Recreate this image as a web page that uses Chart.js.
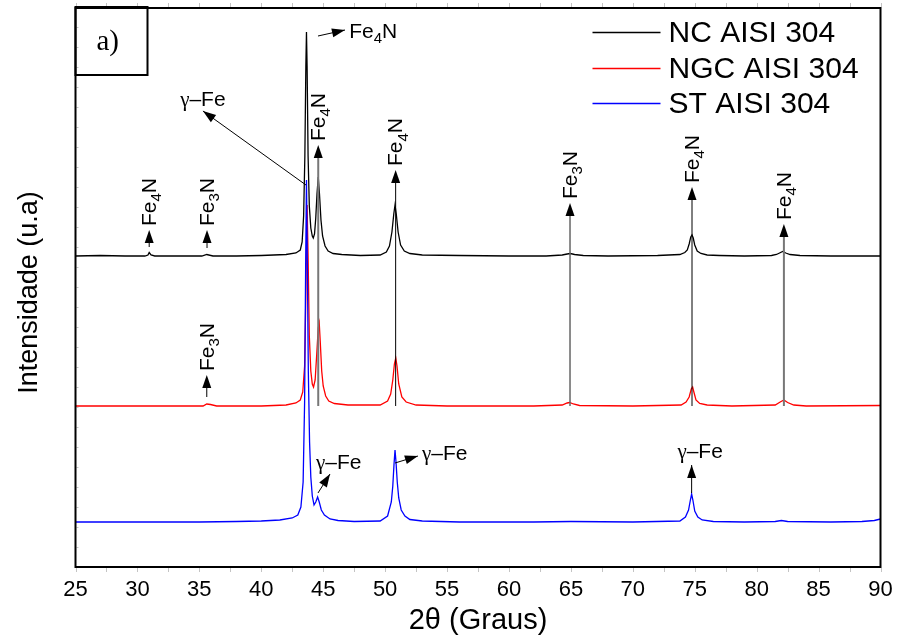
<!DOCTYPE html>
<html>
<head>
<meta charset="utf-8">
<script src="https://cdn.jsdelivr.net/npm/chart.js@4.4.1/dist/chart.umd.min.js"></script>
<style>
  body { margin: 0; background: #fff; }
  canvas { display: block; }
</style>
</head>
<body>
<canvas id="xrd_chart" width="899" height="641"></canvas>
<script>
// 2theta range and ticks
var angleMin = 25;
var angleMax = 90;
var angleStep = 5;

var seriesNames = ['NC AISI 304', 'NGC AISI 304', 'ST AISI 304'];
var seriesColors = ['#000000', '#ff0000', '#0000ff'];
// vertical offset of each pattern (stacked plot)
var baselineOffsets = [311, 161, 45];

// [2theta, intensity above its own baseline]
var nc_pattern = [
  [25, 0], [27, 0.5], [29, 0], [30.6, 0], [30.85, 1], [30.95, 3.5], [31.1, 1], [31.4, 0],
  [33, 0], [35.2, 0], [35.6, 1.5], [36.1, 0], [38, 0], [40, 0.5], [42, 1.5], [42.8, 3],
  [43.15, 6], [43.3, 14], [43.42, 40], [43.52, 100], [43.6, 190], [43.65, 224], [43.7, 190],
  [43.78, 100], [43.88, 50], [44.0, 28], [44.12, 20], [44.2, 18], [44.3, 22], [44.4, 38],
  [44.5, 62], [44.6, 79], [44.7, 62], [44.82, 36], [44.95, 20], [45.15, 10], [45.4, 5],
  [45.8, 2.5], [46.5, 1.5], [48, 0.5], [49.6, 1], [50.1, 4], [50.35, 10], [50.55, 24],
  [50.7, 42], [50.8, 51], [50.9, 42], [51.05, 24], [51.25, 11], [51.55, 5], [52, 2.5],
  [53, 1], [56, 0.5], [60, 0], [63, 0], [64.3, 1], [64.7, 2], [64.95, 2.5], [65.3, 1.5],
  [66, 0.5], [68, 0], [72, 0.5], [73.8, 1.5], [74.2, 3.5], [74.4, 6], [74.55, 12],
  [74.68, 19], [74.78, 21], [74.88, 18], [75.0, 11], [75.2, 5], [75.5, 2.5], [76, 1],
  [77, 0.5], [79, 0], [81.2, 0.5], [81.6, 1.5], [81.85, 3], [82.1, 4.5], [82.35, 3],
  [82.7, 1.5], [83.5, 0.5], [86, 0], [90, 0]
];
var ngc_pattern = [
  [25, 0], [30, 0], [35.3, 0], [35.6, 2], [35.9, 1.5], [36.4, 0], [40, 0], [42, 1],
  [42.8, 3], [43.15, 6], [43.35, 14], [43.5, 40], [43.6, 110], [43.7, 201], [43.78, 150],
  [43.88, 70], [44.0, 35], [44.12, 22], [44.22, 19], [44.35, 26], [44.48, 52], [44.6, 78],
  [44.68, 83], [44.76, 65], [44.88, 35], [45.0, 20], [45.2, 10], [45.45, 5], [45.9, 2.5],
  [47, 1], [49.6, 1], [50.2, 5], [50.45, 12], [50.62, 26], [50.75, 42], [50.86, 48],
  [50.96, 40], [51.1, 22], [51.35, 9], [51.7, 4], [52.5, 1], [55, 0], [62, 0], [64.3, 1],
  [64.7, 3], [64.9, 3.5], [65.2, 2], [65.7, 0.5], [70, 0], [73.9, 1], [74.3, 4],
  [74.55, 9], [74.72, 17], [74.83, 19], [74.93, 14], [75.1, 6], [75.4, 2.5], [76, 1],
  [78, 0], [81.5, 1], [81.9, 4], [82.2, 6], [82.5, 3.5], [83, 1], [84, 0], [90, 0.5]
];
var st_pattern = [
  [25, 0], [30, 0], [35, 0], [38, 0.5], [40, 1], [41.5, 2], [42.5, 4], [42.95, 7],
  [43.2, 15], [43.38, 40], [43.5, 120], [43.58, 250], [43.65, 342], [43.72, 260],
  [43.8, 150], [43.9, 80], [44.0, 45], [44.12, 26], [44.26, 17], [44.4, 20], [44.55, 25],
  [44.68, 20], [44.85, 12], [45.1, 7], [45.55, 3], [46.2, 1.5], [47.5, 0.5], [49.6, 1],
  [50.2, 6], [50.5, 20], [50.62, 36], [50.72, 58], [50.8, 72], [50.88, 60], [50.98, 40],
  [51.1, 24], [51.3, 12], [51.6, 6], [52, 2.5], [53, 1], [56, 0], [62, 0], [65, 0.5],
  [70, 0], [73.8, 1], [74.25, 5], [74.5, 12], [74.65, 22], [74.75, 28], [74.85, 22],
  [75.0, 11], [75.25, 5], [75.6, 2], [76.5, 0.5], [79, 0], [81.5, 0.5], [82, 1.5],
  [82.5, 0.5], [86, 0], [88.5, 0.5], [89.5, 1.5], [90, 3]
];

// phase labels (rotated) with upward arrows: angle, arrow tip, arrow tail
var phaseMarks = [
  {angle: 30.95, tip: 337, tail: 320, sub: '4', color: '#000', width: 1},
  {angle: 35.62, tip: 337, tail: 319, sub: '3', color: '#000', width: 1},
  {angle: 44.6, tip: 422, tail: 161, sub: '4', color: '#777', width: 2},
  {angle: 50.85, tip: 397, tail: 161, sub: '4', color: '#000', width: 1},
  {angle: 64.93, tip: 364, tail: 161, sub: '3', color: '#666', width: 1.5},
  {angle: 74.78, tip: 380, tail: 161, sub: '4', color: '#000', width: 1},
  {angle: 82.2, tip: 343, tail: 161, sub: '4', color: '#777', width: 2},
  {angle: 35.6, tip: 192, tail: 170, sub: '3', color: '#000', width: 1}
];
// slanted arrows with horizontal labels
var pointerMarks = [
  {from: [43.61, 382], to: [35.29, 456], text: 'gFe', at: [33.45, 467]},
  {from: [44.58, 531], to: [46.76, 537], text: 'Fe4N', at: [47.1, 535]},
  {from: [44.58, 74], to: [45.55, 93], text: 'gFe', at: [44.42, 104]},
  {from: [50.8, 104], to: [52.65, 111], text: 'gFe', at: [52.98, 113]},
  {from: [74.75, 74], to: [74.75, 102], text: 'gFe', at: [73.6, 115]}
];

var sansFont = 'Arial, "Liberation Sans", sans-serif';
var serifFont = '"Liberation Serif", "Times New Roman", serif';

function toPoints(pattern, offset) {
  var pts = [];
  for (var i = 0; i < pattern.length; i++)
    pts.push({x: pattern[i][0], y: pattern[i][1] + offset});
  return pts;
}

function arrowHead(ctx, x0, y0, x1, y1) {
  var a = Math.atan2(y1 - y0, x1 - x0), len = 13, w = 4.5;
  ctx.beginPath();
  ctx.moveTo(x1, y1);
  ctx.lineTo(x1 - len * Math.cos(a) + w * Math.sin(a), y1 - len * Math.sin(a) - w * Math.cos(a));
  ctx.lineTo(x1 - len * Math.cos(a) - w * Math.sin(a), y1 - len * Math.sin(a) + w * Math.cos(a));
  ctx.closePath();
  ctx.fill();
}

function drawFormula(ctx, x, y, sub, size) {
  ctx.textAlign = 'left';
  ctx.textBaseline = 'middle';
  ctx.font = size + 'px ' + sansFont;
  ctx.fillText('Fe', x, y);
  x += ctx.measureText('Fe').width;
  ctx.font = Math.round(size * 0.7) + 'px ' + sansFont;
  ctx.fillText(sub, x, y + 7);
  x += ctx.measureText(sub).width;
  ctx.font = size + 'px ' + sansFont;
  ctx.fillText('N', x, y);
}

function drawGammaFe(ctx, x, y) {
  ctx.textAlign = 'left';
  ctx.textBaseline = 'middle';
  ctx.font = '21px ' + serifFont;
  ctx.fillText('\u03b3', x, y);
  x += ctx.measureText('\u03b3').width;
  ctx.font = '21px ' + sansFont;
  ctx.fillText('\u2013Fe', x, y);
}

var xrdDecor = {
  id: 'xrdDecor',
  afterDatasetsDraw: function(chart) {
    var ctx = chart.ctx, xs = chart.scales.x, ys = chart.scales.y, ca = chart.chartArea;
    ctx.save();
    ctx.fillStyle = '#000';

    // upward arrows with rotated phase names
    phaseMarks.forEach(function(m) {
      var px = xs.getPixelForValue(m.angle);
      var yTip = ys.getPixelForValue(m.tip), yTail = ys.getPixelForValue(m.tail);
      ctx.strokeStyle = m.color;
      ctx.lineWidth = m.width;
      ctx.beginPath();
      ctx.moveTo(px, yTail);
      ctx.lineTo(px, yTip + 8);
      ctx.stroke();
      arrowHead(ctx, px, yTail, px, yTip);
      ctx.save();
      ctx.translate(px + 1, yTip - 4);
      ctx.rotate(-Math.PI / 2);
      drawFormula(ctx, 0, 0, m.sub, 21);
      ctx.restore();
    });

    // slanted arrows
    pointerMarks.forEach(function(m) {
      var x0 = xs.getPixelForValue(m.from[0]), y0 = ys.getPixelForValue(m.from[1]);
      var x1 = xs.getPixelForValue(m.to[0]), y1 = ys.getPixelForValue(m.to[1]);
      ctx.strokeStyle = '#000';
      ctx.lineWidth = 1;
      ctx.beginPath();
      ctx.moveTo(x0, y0);
      ctx.lineTo(x1, y1);
      ctx.stroke();
      arrowHead(ctx, x0, y0, x1, y1);
      var tx = xs.getPixelForValue(m.at[0]), ty = ys.getPixelForValue(m.at[1]);
      if (m.text == 'gFe') drawGammaFe(ctx, tx, ty);
      else drawFormula(ctx, tx, ty, '4', 21);
    });

    // faint tick marks
    ctx.strokeStyle = '#c4c4c4';
    ctx.lineWidth = 1;
    for (var a = angleMin; a <= angleMax; a += angleStep / 2) {
      var tx = Math.round(xs.getPixelForValue(a)) + 0.5;
      ctx.beginPath();
      ctx.moveTo(tx, ca.top - 1); ctx.lineTo(tx, ca.top - 5);
      ctx.moveTo(tx, ca.bottom + 1); ctx.lineTo(tx, ca.bottom + 5);
      ctx.stroke();
    }
    for (var v = 20; v < 559; v += 20) {
      var ty2 = Math.round(ys.getPixelForValue(v)) + 0.5;
      ctx.beginPath();
      ctx.moveTo(ca.left + 1, ty2); ctx.lineTo(ca.left + 3, ty2);
      ctx.stroke();
    }

    // frame
    ctx.strokeStyle = '#000';
    ctx.lineWidth = 2;
    ctx.strokeRect(ca.left, ca.top, ca.right - ca.left, ca.bottom - ca.top);

    // panel tag
    ctx.strokeRect(ca.left, ca.top - 1, 72, 68);
    ctx.font = '29px ' + serifFont;
    ctx.textAlign = 'left';
    ctx.textBaseline = 'middle';
    ctx.fillText('a)', ca.left + 21, ca.top + 34);

    // y axis title
    ctx.save();
    ctx.translate(30, (ca.top + ca.bottom) / 2 + 5);
    ctx.rotate(-Math.PI / 2);
    ctx.textAlign = 'center';
    ctx.font = '27px ' + sansFont;
    ctx.fillText('Intensidade (u.a)', 0, 0);
    ctx.restore();

    // legend
    ctx.font = '30px ' + sansFont;
    ctx.textAlign = 'left';
    ctx.textBaseline = 'middle';
    for (var i = 0; i < seriesNames.length; i++) {
      var ly = Math.round(ca.top + 24 + i * 35.5) + 0.5;
      ctx.strokeStyle = seriesColors[i];
      ctx.lineWidth = 1.5;
      ctx.beginPath();
      ctx.moveTo(ca.right - 288, ly); ctx.lineTo(ca.right - 220, ly);
      ctx.stroke();
      ctx.fillText(seriesNames[i], ca.right - 212, ly + 1);
    }
    ctx.restore();
  }
};

var ctx = document.getElementById('xrd_chart').getContext('2d');
var xrdChart = new Chart(ctx, {
  type: 'line',
  data: {
    datasets: [
      {label: seriesNames[0], data: toPoints(nc_pattern, baselineOffsets[0]), borderColor: seriesColors[0], order: 0},
      {label: seriesNames[1], data: toPoints(ngc_pattern, baselineOffsets[1]), borderColor: seriesColors[1], order: 2},
      {label: seriesNames[2], data: toPoints(st_pattern, baselineOffsets[2]), borderColor: seriesColors[2], order: 1}
    ]
  },
  options: {
    responsive: false,
    animation: false,
    devicePixelRatio: 1,
    elements: {
      line: {borderWidth: 1.3, tension: 0},
      point: {radius: 0}
    },
    layout: {padding: {top: 8, right: 18.5, left: 0, bottom: 0}},
    plugins: {legend: {display: false}, tooltip: {enabled: false}},
    scales: {
      x: {
        type: 'linear',
        min: angleMin,
        max: angleMax,
        grid: {display: false},
        border: {display: false},
        ticks: {stepSize: angleStep, color: '#000', padding: 2, maxRotation: 0, autoSkip: false,
                font: {family: sansFont, size: 22}},
        title: {display: true, text: '2\u03b8 (Graus)', color: '#000', padding: {top: 0, bottom: 3},
                font: {family: sansFont, size: 29}},
        afterFit: function(s) { s.height = 74; }
      },
      y: {
        min: 0,
        max: 559,
        grid: {display: false},
        border: {display: false},
        ticks: {display: false},
        afterFit: function(s) { s.width = 75.5; }
      }
    }
  },
  plugins: [xrdDecor]
});
</script>
</body>
</html>
